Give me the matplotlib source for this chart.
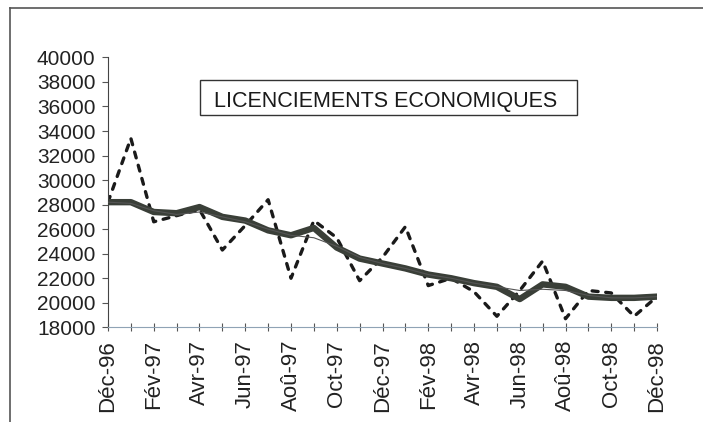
import matplotlib.pyplot as plt
from matplotlib.lines import Line2D
from matplotlib.patches import Rectangle

plt.rcParams['font.family'] = ['Liberation Sans', 'DejaVu Sans']

# monthly labels, Dec 1996 .. Dec 1998
months = ["Déc-96", "Jan-97", "Fév-97", "Mar-97", "Avr-97", "Mai-97", "Jun-97",
          "Jul-97", "Aoû-97", "Sep-97", "Oct-97", "Nov-97", "Déc-97", "Jan-98",
          "Fév-98", "Mar-98", "Avr-98", "Mai-98", "Jun-98", "Jul-98", "Aoû-98",
          "Sep-98", "Oct-98", "Nov-98", "Déc-98"]

# raw series (dashed)
brut = [28200, 33400, 26600, 27100, 27600, 24300, 26300, 28400, 22000, 26700,
        25300, 21800, 23700, 26200, 21400, 22000, 20900, 18900, 21000, 23400,
        18700, 21000, 20800, 18900, 20500]

# seasonally adjusted (thick)
cvs = [28200, 28200, 27400, 27300, 27800, 27000, 26700, 25900, 25500, 26100,
       24500, 23600, 23200, 22800, 22300, 22000, 21600, 21300, 20300, 21500,
       21300, 20500, 20400, 20400, 20500]

# trend (thin)
tendance = [28200, 28100, 27500, 27200, 27400, 27000, 26600, 26000, 25500, 25300,
            24600, 23700, 23200, 22800, 22300, 22000, 21600, 21300, 21000, 21100,
            21000, 20600, 20400, 20400, 20500]

yticks = list(range(18000, 40001, 2000))

fig = plt.figure(figsize=(7.03, 4.22), dpi=100)
ax = fig.add_axes([0.1536, 0.2244, 0.781, 0.6396])

x = list(range(len(months)))
ax.plot(x, brut, color="#1a1a1a", lw=2.4, linestyle=(0, (1.8, 2.3)),
        dash_capstyle="round", zorder=2)
ax.plot(x, cvs, color="#3a3f38", lw=4.6, solid_joinstyle="round",
        solid_capstyle="round", zorder=3)
ax.plot(x, tendance, color="#555555", lw=0.8, zorder=4)

ax.set_xlim(0, len(months) - 1)
ax.set_ylim(18000, 40000)
ax.set_yticks(yticks)
ax.set_yticklabels([str(v) for v in yticks], fontsize=15, color="#222222")
ax.set_xticks(x)
ax.set_xticklabels(["" if i % 2 else m for i, m in enumerate(months)],
                   rotation=90, fontsize=16, color="#222222")
ax.tick_params(axis="x", direction="inout", length=6, color="#555555", pad=6)
ax.tick_params(axis="y", direction="out", length=4, color="#555555", pad=5)

for s in ["top", "right"]:
    ax.spines[s].set_visible(False)
ax.spines["left"].set_color("#444444")
ax.spines["bottom"].set_color("#8fa3b5")

# title box
fig.text(0.549, 0.76, "LICENCIEMENTS ECONOMIQUES", fontsize=15.5,
         ha="center", va="center", color="#1a1a1a")
fig.patches.append(Rectangle((200 / 703, 1 - 115 / 422), 377 / 703, 35 / 422,
                             transform=fig.transFigure, fill=False,
                             edgecolor="#333333", lw=1.0))

# outer frame of the scanned chart
fig.add_artist(Line2D([10 / 703, 10 / 703], [0, 1 - 8 / 422],
                      transform=fig.transFigure, color="#555555", lw=1.2))
fig.add_artist(Line2D([10 / 703, 1], [1 - 8 / 422, 1 - 8 / 422],
                      transform=fig.transFigure, color="#555555", lw=1.2))

fig.savefig("out.png", dpi=100)
